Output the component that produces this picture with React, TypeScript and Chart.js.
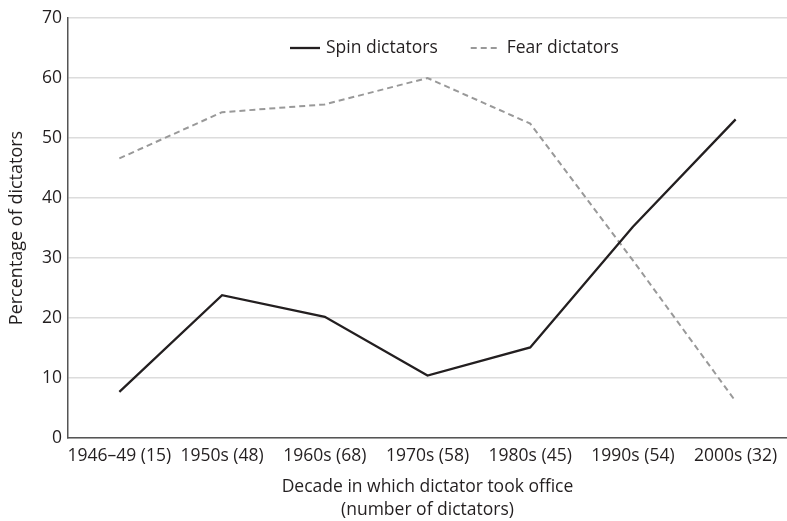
import { useEffect, useRef } from "react";
import { Chart, registerables } from "chart.js";

Chart.register(...registerables);

const categories = [
  "1946–49 (15)",
  "1950s (48)",
  "1960s (68)",
  "1970s (58)",
  "1980s (45)",
  "1990s (54)",
  "2000s (32)",
];
const spinValues = [7.7, 23.8, 20.2, 10.4, 15.1, 35.2, 53.1];
const fearValues = [46.6, 54.3, 55.6, 60.0, 52.4, 29.6, 6.1];
const seriesNames = ["Spin dictators", "Fear dictators"];
const yTitle = "Percentage of dictators";
const xTitle = ["Decade in which dictator took office", "(number of dictators)"];

const FONT = "'Open Sans', sans-serif";
const TEXT = "#231f20";
const FS = 17.5;

const legendPlugin = {
  id: "customLegend",
  afterDraw(chart: any) {
    const ctx = chart.ctx;
    ctx.save();
    ctx.font = `${FS}px ${FONT}`;
    ctx.textBaseline = "middle";
    ctx.fillStyle = TEXT;
    const y = 48;
    let x = 290;
    chart.data.datasets.forEach((ds: any) => {
      ctx.beginPath();
      ctx.strokeStyle = ds.borderColor;
      ctx.lineWidth = ds.borderWidth;
      ctx.setLineDash(ds.borderDash || []);
      ctx.moveTo(x, y);
      ctx.lineTo(x + 30, y);
      ctx.stroke();
      ctx.setLineDash([]);
      x += 36;
      ctx.fillText(ds.label, x, y);
      x += ctx.measureText(ds.label).width + 33;
    });
    ctx.restore();
  },
};

export default function App() {
  const ref = useRef<HTMLCanvasElement>(null);
  useEffect(() => {
    document.body.style.margin = "0";
    const chart = new Chart(ref.current!, {
      type: "line",
      data: {
        labels: categories,
        datasets: [
          {
            label: seriesNames[0],
            data: spinValues,
            borderColor: "#231f20",
            borderWidth: 2.3,
            pointRadius: 0,
            tension: 0,
            fill: false,
          },
          {
            label: seriesNames[1],
            data: fearValues,
            borderColor: "#999999",
            borderWidth: 2,
            borderDash: [6, 4],
            pointRadius: 0,
            tension: 0,
            fill: false,
          },
        ],
      },
      options: {
        animation: false,
        responsive: true,
        maintainAspectRatio: false,
        layout: { padding: { top: 18, right: 0, left: 0, bottom: 0 } },
        plugins: { legend: { display: false }, tooltip: { enabled: false } },
        scales: {
          x: {
            offset: true,
            grid: { display: false, drawTicks: false },
            border: { display: true, color: "#555", width: 1.5 },
            ticks: { font: { family: FONT, size: FS }, color: TEXT, padding: 8, maxRotation: 0, autoSkip: false },
            title: {
              display: true,
              text: xTitle,
              font: { family: FONT, size: FS, lineHeight: 1.3 },
              color: TEXT,
              padding: { top: 0, bottom: 0 },
            },
            afterFit: (s: any) => {
              s.height = 83;
            },
          },
          y: {
            min: 0,
            max: 70,
            ticks: { stepSize: 10, font: { family: FONT, size: FS }, color: TEXT, padding: 6 },
            grid: { color: "#dcdcdc", lineWidth: 1.5, drawTicks: false },
            border: { display: true, color: "#555", width: 1.5 },
            title: {
              display: true,
              text: yTitle,
              font: { family: FONT, size: 18, lineHeight: 1.25 },
              color: TEXT,
              padding: { top: 6, bottom: 0 },
            },
            afterFit: (s: any) => {
              s.width = 68;
            },
          },
        },
      },
      plugins: [legendPlugin],
    });
    return () => chart.destroy();
  }, []);
  return (
    <div style={{ width: 787, height: 521, position: "relative" }}>
      <canvas ref={ref} />
    </div>
  );
}
